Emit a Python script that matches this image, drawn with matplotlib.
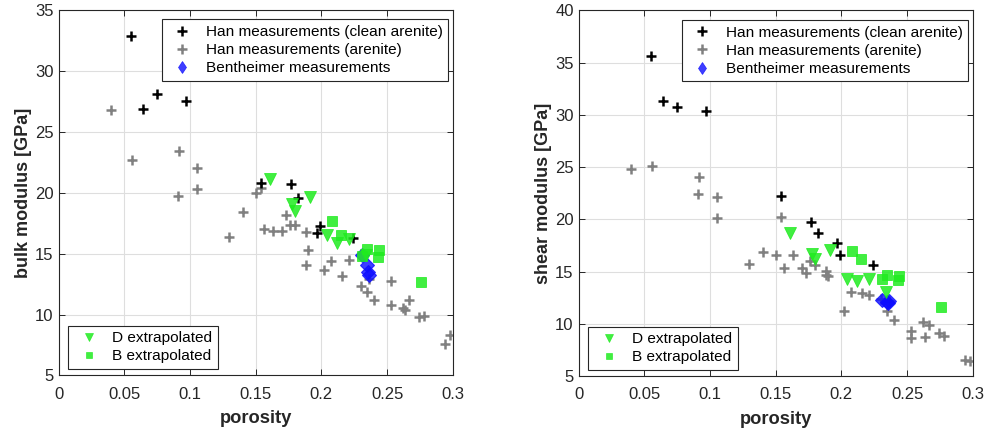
import matplotlib
matplotlib.use("Agg")
import matplotlib.pyplot as plt
from matplotlib.lines import Line2D

plt.rcParams['font.family'] = ['Liberation Sans', 'DejaVu Sans']

# ---------------- data ----------------
phi_clean = [0.055, 0.064, 0.075, 0.097, 0.154, 0.177, 0.182, 0.197, 0.199, 0.224]
K_clean = [32.85, 26.85, 28.05, 27.5, 20.8, 20.7, 19.55, 16.65, 17.25, 16.3]
G_clean = [35.6, 31.3, 30.8, 30.35, 22.25, 19.8, 18.75, 17.75, 16.6, 15.6]

phi_aren = [0.040, 0.056, 0.092, 0.105, 0.091, 0.105, 0.130, 0.140, 0.150, 0.154,
            0.156, 0.163, 0.170, 0.173, 0.176, 0.180, 0.188, 0.190, 0.188, 0.202,
            0.207, 0.216, 0.221, 0.230, 0.235, 0.236, 0.240, 0.253, 0.253, 0.262,
            0.264, 0.267, 0.274, 0.278, 0.294, 0.298]
K_aren = [26.76, 22.66, 23.43, 22.03, 19.74, 20.31, 16.38, 18.38, 20.0, 20.34,
          16.98, 16.84, 16.84, 18.16, 17.34, 17.34, 16.79, 15.29, 14.06, 13.62,
          14.41, 13.18, 14.44, 12.36, 11.84, 12.91, 11.16, 12.72, 10.75, 10.5,
          10.34, 11.19, 9.82, 9.9, 7.58, 8.32]
G_aren = [24.8, 25.15, 24.1, 22.15, 22.44, 20.17, 15.77, 16.86, 16.65, 20.2,
          15.39, 16.57, 15.39, 14.9, 16.05, 15.68, 15.07, 14.6, 14.72, 11.2,
          13.07, 12.95, 12.78, 12.39, 11.27, 12.2, 10.41, 9.33, 8.69, 10.16,
          8.76, 9.88, 9.1, 8.82, 6.55, 6.46]

phi_bent = [0.2306, 0.2345, 0.2357, 0.2360]
K_bent = [14.9, 14.1, 13.45, 13.25]
G_bent = [12.3, 12.1, 12.0, 12.2]

phi_D = [0.161, 0.178, 0.180, 0.191, 0.204, 0.212, 0.221, 0.234]
K_D = [21.1, 19.08, 18.48, 19.6, 16.5, 15.84, 16.21, 14.9]
G_D = [18.68, 16.7, 16.22, 17.08, 14.28, 14.15, 14.28, 13.03]

phi_B = [0.208, 0.215, 0.231, 0.2345, 0.243, 0.244, 0.276]
K_B = [17.66, 16.52, 14.8, 15.37, 14.74, 15.29, 12.69]
G_B = [16.96, 16.22, 14.31, 14.72, 14.18, 14.59, 11.6]

xticks = [0, 0.05, 0.1, 0.15, 0.2, 0.25, 0.3]
xticklabels = ['0', '0.05', '0.1', '0.15', '0.2', '0.25', '0.3']

labels_top = ['Han measurements (clean arenite)', 'Han measurements (arenite)',
              'Bentheimer measurements']
labels_bot = ['D extrapolated', 'B extrapolated']

# ---------------- style ----------------
AX_COL = '0.15'
GREEN = (0.12, 0.92, 0.12)
BLUE = (0.05, 0.05, 1.0)

fig = plt.figure(figsize=(9.88, 4.32), dpi=100)

panels = [
    (fig.add_axes([0.0593, 0.1308, 0.399, 0.847]), K_clean, K_aren, K_bent, K_D, K_B,
     (5, 35), 'bulk modulus [GPa]'),
    (fig.add_axes([0.5856, 0.1290, 0.399, 0.8468]), G_clean, G_aren, G_bent, G_D, G_B,
     (5, 40), 'shear modulus [GPa]'),
]

for ax, yc, ya, yb, yd, ybb, ylim, ylabel in panels:
    ax.set_axisbelow(True)
    ax.grid(True, color='0.87', linewidth=0.8)
    ax.plot(phi_clean, yc, '+', color='black', ms=6.5, mew=1.8, zorder=3)
    ax.plot(phi_aren, ya, '+', color='0.5', ms=6.5, mew=1.8, zorder=2)
    ax.plot(phi_bent, yb, 'D', color=BLUE, alpha=0.8, ms=6.8, mew=0.8,
            mec=BLUE, zorder=4)
    ax.plot(phi_D, yd, 'v', color=GREEN, alpha=0.85, ms=8, mew=0.6,
            mec=GREEN, zorder=5)
    ax.plot(phi_B, ybb, 's', color=GREEN, alpha=0.85, ms=6.8, mew=0.6,
            mec=GREEN, zorder=5)

    ax.set_xlim(0, 0.3)
    ax.set_ylim(*ylim)
    ax.set_xticks(xticks)
    ax.set_xticklabels(xticklabels)
    ax.set_yticks(range(ylim[0], ylim[1] + 1, 5))
    ax.tick_params(direction='in', length=4, width=0.7, colors=AX_COL,
                   labelsize=12, top=True, right=True)
    ax.tick_params(axis='x', pad=8)
    ax.tick_params(axis='y', pad=3.5)
    for s in ax.spines.values():
        s.set_color(AX_COL)
        s.set_linewidth(0.8)
    ax.set_xlabel('porosity', fontsize=13.2, fontweight='bold', color=AX_COL, labelpad=6)
    ax.set_ylabel(ylabel, fontsize=13, fontweight='bold', color=AX_COL, labelpad=2)

    # legend handles
    lh1 = Line2D([], [], ls='none', marker='+', color='black', ms=6.5, mew=1.8)
    lh2 = Line2D([], [], ls='none', marker='+', color='0.5', ms=6.5, mew=1.8)
    lh3 = Line2D([], [], ls='none', marker='d', color=BLUE, alpha=0.8, ms=6.5, mew=0.5)
    lh4 = Line2D([], [], ls='none', marker='v', color=GREEN, alpha=0.85, ms=5.5, mew=0.5)
    lh5 = Line2D([], [], ls='none', marker='s', color=GREEN, alpha=0.85, ms=4.2, mew=0.5)

    common = dict(fontsize=11.1, frameon=True, fancybox=False, framealpha=1,
                  edgecolor=AX_COL, borderaxespad=0, borderpad=0.36,
                  handlelength=1.95, handletextpad=0.55, labelspacing=0.26)
    leg1 = ax.legend([lh1, lh2, lh3], labels_top, loc='upper right',
                     bbox_to_anchor=(0.988, 0.973), **common)
    leg1.get_frame().set_linewidth(0.8)
    ax.add_artist(leg1)
    leg2 = ax.legend([lh4, lh5], labels_bot, loc='lower left',
                     bbox_to_anchor=(0.0246, 0.0178), **common)
    leg2.get_frame().set_linewidth(0.8)

fig.savefig('out.png', dpi=100)
